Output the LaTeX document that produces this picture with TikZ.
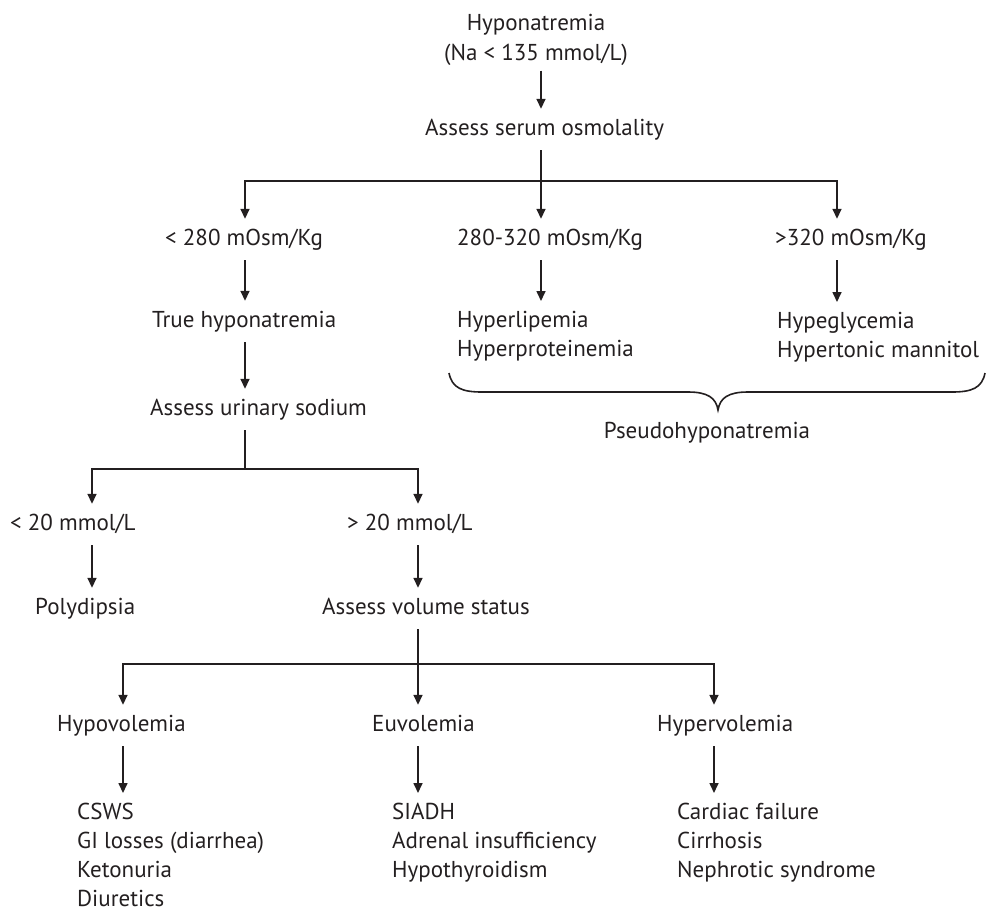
\documentclass[tikz,border=0pt]{standalone}
\usepackage{fontspec}
\setmainfont{PT Sans}
\usetikzlibrary{arrows.meta,positioning}
\definecolor{ink}{HTML}{231F20}

\begin{document}
\begin{tikzpicture}[
    x=1pt, y=-1pt,
    every node/.style={text=ink, font=\fontsize{23}{29}\selectfont},
    lbl/.style={anchor=base west, inner xsep=0pt, inner ysep=10pt, text height=16pt, text depth=5pt},
    lst/.style={anchor=north west, align=left, inner xsep=0pt, inner ysep=10pt},
    line/.style={draw=ink, line width=1.6pt},
    arrow/.style={line, -{Triangle[length=10pt, width=9pt]}}
]
\useasboundingbox (0,0) rectangle (988,911);

% top
\node[anchor=north, align=center, inner ysep=5pt, font=\fontsize{23}{30}\selectfont] (hypo) at (536,9) {Hyponatremia\\(Na < 135 mmol/L)};
\node[lbl] (osm) at (425,135) {Assess serum osmolality};

% osmolality ranges
\node[lbl] (lo) at (165,245) {< 280 mOsm/Kg};
\node[lbl] (mid) at (457,245) {280-320 mOsm/Kg};
\node[lbl] (hi) at (775,245) {>320 mOsm/Kg};
\node[lbl] (truehypo) at (152,327) {True hyponatremia};
\node[lst] (lipid) at (457,301) {Hyperlipemia\\Hyperproteinemia};
\node[lst] (gluc) at (777,302) {Hypeglycemia\\Hypertonic mannitol};
\node[lbl] (urine) at (150,415) {Assess urinary sodium};
\node (pseudo) at (707,433) {Pseudohyponatremia};

% urinary sodium
\node[lbl] (nalo) at (10,530) {< 20 mmol/L};
\node[lbl] (nahi) at (347,530) {> 20 mmol/L};
\node[lbl] (poly) at (35,614) {Polydipsia};
\node[lbl] (vol) at (322,614) {Assess volume status};

% volume status
\node[lbl] (hypov) at (57,731) {Hypovolemia};
\node[lbl] (euv) at (372,731) {Euvolemia};
\node[lbl] (hyperv) at (657,731) {Hypervolemia};
\node[lst] (causeA) at (77,793) {CSWS\\GI losses (diarrhea)\\Ketonuria\\Diuretics};
\node[lst] (causeB) at (392,793) {SIADH\\Adrenal insufficiency\\Hypothyroidism};
\node[lst] (causeC) at (677,793) {Cardiac failure\\Cirrhosis\\Nephrotic syndrome};

\coordinate (sL) at (245,181);
\coordinate (sM) at (541,181);
\coordinate (sR) at (837,181);
\coordinate (uS) at (245,469);
\coordinate (uL) at (92,469);
\coordinate (uR) at (418,469);
\coordinate (vS) at (418,664);
\coordinate (vL) at (123,664);
\coordinate (vR) at (714,664);

\draw[arrow] (hypo.south -| sM) -- (osm.north -| sM);
\draw[line] (osm.south -| sM) -- (sM);
\draw[arrow] (sM) -- (mid.north -| sM);
\draw[arrow] (sM) -| (sL |- lo.north);
\draw[arrow] (sM) -| (sR |- hi.north);
\draw[arrow] (lo.south -| sL) -- (truehypo.north -| sL);
\draw[arrow] (mid.south -| sM) -- (lipid.north -| sM);
\draw[arrow] (hi.south -| sR) -- (gluc.north -| sR);
\draw[arrow] (truehypo.south -| sL) -- (urine.north -| sL);

% brace over the pseudohyponatremia causes
\draw[line] (449,373) .. controls (452,388) and (462,392) .. (482,392) -- (688,392)
    .. controls (708,392) and (716,398) .. (718,410)
    .. controls (720,398) and (728,392) .. (748,392) -- (952,392)
    .. controls (972,392) and (982,388) .. (985,373);

\draw[line] (urine.south -| uS) -- (uS);
\draw[arrow] (uS) -| (uL |- nalo.north);
\draw[arrow] (uS) -| (uR |- nahi.north);
\draw[arrow] (nalo.south -| uL) -- (poly.north -| uL);
\draw[arrow] (nahi.south -| uR) -- (vol.north -| uR);

\draw[line] (vol.south -| vS) -- (vS);
\draw[arrow] (vS) -- (euv.north -| vS);
\draw[arrow] (vS) -| (vL |- hypov.north);
\draw[arrow] (vS) -| (vR |- hyperv.north);
\draw[arrow] (hypov.south -| vL) -- (causeA.north -| vL);
\draw[arrow] (euv.south -| vS) -- (causeB.north -| vS);
\draw[arrow] (hyperv.south -| vR) -- (causeC.north -| vR);

\end{tikzpicture}
\end{document}
